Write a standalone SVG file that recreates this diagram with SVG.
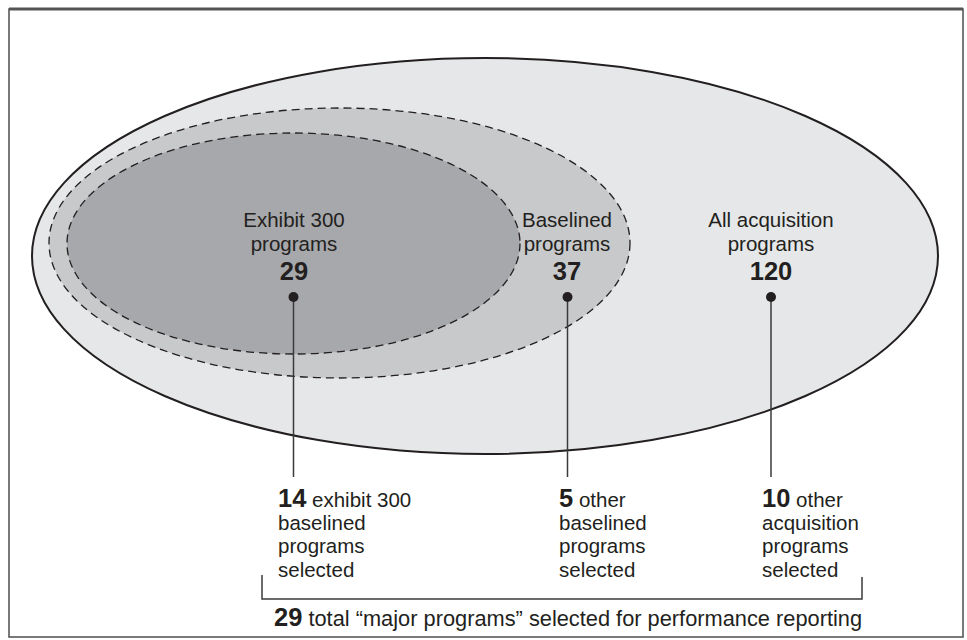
<svg xmlns="http://www.w3.org/2000/svg" width="967" height="640" viewBox="0 0 967 640">
<style>
text{font-family:"Liberation Sans",Arial,sans-serif;fill:#231f20;}
.l{font-size:20.5px;}
.n{font-size:25.5px;font-weight:bold;}
.m{text-anchor:middle;}
.dash{stroke:#231f20;stroke-width:1.3;stroke-dasharray:8,5;}
.conn{stroke:#3a3a3a;stroke-width:1.5;fill:none;}
</style>
<rect x="0" y="0" width="967" height="640" fill="#ffffff"/>
<rect x="9" y="9" width="954" height="628" fill="#ffffff" stroke="#4d4d4d" stroke-width="1.5"/>
<line x1="9" y1="9" x2="963" y2="9" stroke="#555" stroke-width="3"/>
<g id="all">
<ellipse cx="485" cy="256" rx="453" ry="198" fill="#e6e7e8" stroke="#231f20" stroke-width="2"/>
</g>
<g id="baselined">
<ellipse cx="339.5" cy="243" rx="290.5" ry="135" fill="#c8c9cb" class="dash"/>
</g>
<g id="exhibit">
<ellipse cx="293.5" cy="243.5" rx="226.5" ry="110.5" fill="#a7a8ab" class="dash"/>
</g>
<g id="connectors">
<line class="conn" x1="293.5" y1="297" x2="293.5" y2="477"/>
<line class="conn" x1="567.5" y1="297" x2="567.5" y2="477"/>
<line class="conn" x1="771" y1="297" x2="771" y2="477"/>
<circle cx="293.5" cy="297" r="5" fill="#231f20"/>
<circle cx="567.5" cy="297" r="5" fill="#231f20"/>
<circle cx="771" cy="297" r="5" fill="#231f20"/>
<polyline class="conn" points="262,575 262,599 862,599 862,577"/>
</g>
<g id="label-exhibit">
<text class="l m" x="294" y="227">Exhibit 300</text>
<text class="l m" x="294" y="251">programs</text>
<text class="n m" x="294" y="280">29</text>
</g>
<g id="label-baselined">
<text class="l m" x="567" y="227">Baselined</text>
<text class="l m" x="567" y="251">programs</text>
<text class="n m" x="567" y="280">37</text>
</g>
<g id="label-all">
<text class="l m" x="771" y="227">All acquisition</text>
<text class="l m" x="771" y="251">programs</text>
<text class="n m" x="771" y="280">120</text>
</g>
<g id="note-14">
<text class="l" x="278" y="507"><tspan class="n">14</tspan> exhibit 300</text>
<text class="l" x="278" y="530">baselined</text>
<text class="l" x="278" y="553">programs</text>
<text class="l" x="278" y="577">selected</text>
</g>
<g id="note-5">
<text class="l" x="559" y="507"><tspan class="n">5</tspan> other</text>
<text class="l" x="559" y="530">baselined</text>
<text class="l" x="559" y="553">programs</text>
<text class="l" x="559" y="577">selected</text>
</g>
<g id="note-10">
<text class="l" x="762" y="507"><tspan class="n">10</tspan> other</text>
<text class="l" x="762" y="530">acquisition</text>
<text class="l" x="762" y="553">programs</text>
<text class="l" x="762" y="577">selected</text>
</g>
<g id="total">
<text x="274" y="626" style="font-size:21.8px"><tspan class="n">29</tspan> total “major programs” selected for performance reporting</text>
</g>
</svg>
